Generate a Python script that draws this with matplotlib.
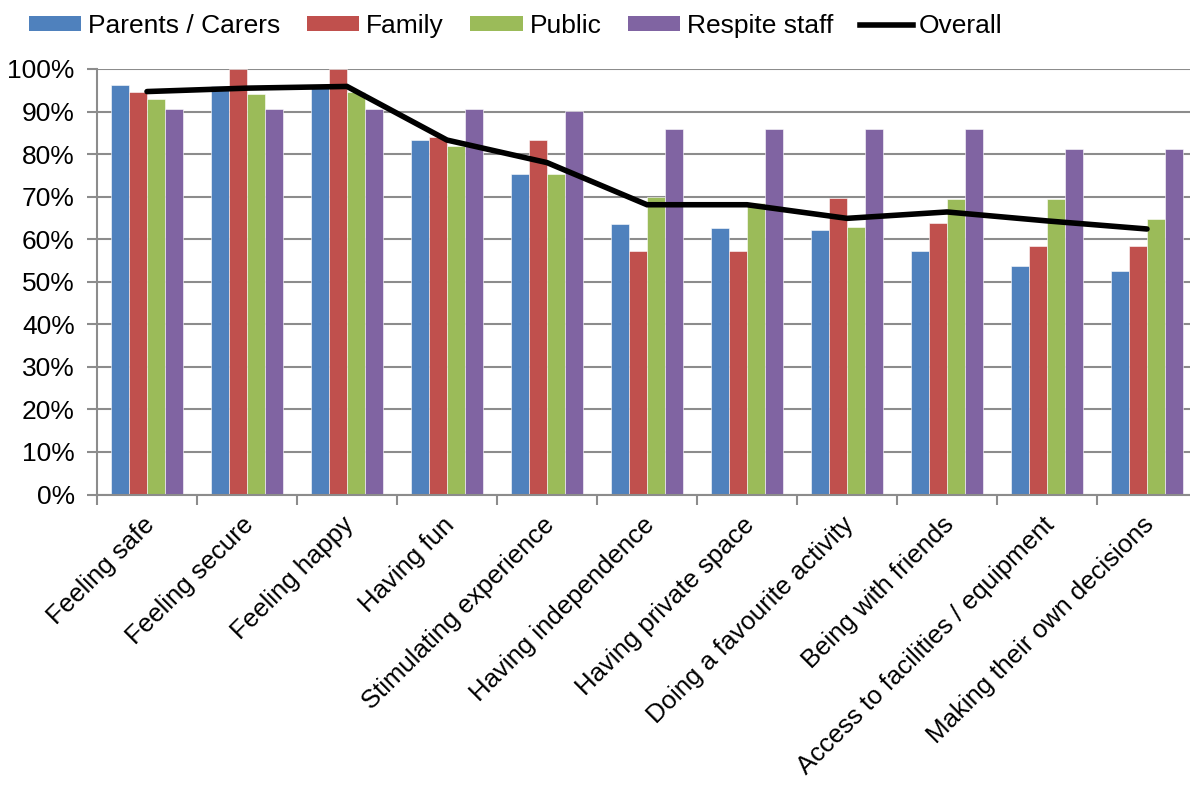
"""Respite outcomes chart"""

import numpy as np
import matplotlib.pyplot as plt
from matplotlib.lines import Line2D
from matplotlib.patches import Patch

plt.rcParams['font.family'] = ['Liberation Sans', 'DejaVu Sans']

categories = [
    "Feeling safe", "Feeling secure", "Feeling happy", "Having fun",
    "Stimulating experience", "Having independence", "Having private space",
    "Doing a favourite activity", "Being with friends",
    "Access to facilities / equipment", "Making their own decisions",
]
parents = [96.2, 95.9, 96.0, 83.4, 75.3, 63.5, 62.7, 62.1, 57.2, 53.6, 52.5]
family = [94.6, 100.0, 100.0, 84.0, 83.4, 57.2, 57.2, 69.6, 63.9, 58.4, 58.4]
public = [92.9, 94.1, 94.7, 81.8, 75.3, 70.0, 68.6, 62.9, 69.4, 69.4, 64.7]
respite = [90.6, 90.6, 90.6, 90.6, 90.2, 85.8, 85.8, 85.8, 85.8, 81.2, 81.2]
overall = [94.7, 95.5, 95.9, 83.3, 78.0, 68.1, 68.1, 64.9, 66.4, 64.3, 62.4]

series_names = ["Parents / Carers", "Family", "Public", "Respite staff"]
colors = ["#4f81bd", "#c0504d", "#9bbb59", "#8064a2"]


def main():
    fig = plt.figure(figsize=(11.9, 7.85), dpi=100)
    ax = fig.add_axes([97 / 1190, 1 - 494.5 / 785, 1100 / 1190, (494.5 - 69) / 785])

    x = np.arange(len(categories))
    w = 0.18
    for i, (vals, c) in enumerate(zip([parents, family, public, respite], colors)):
        ax.bar(x + (i - 1.5) * w, vals, width=w, color=c,
               edgecolor="#ffffff", linewidth=0.4, zorder=2)

    ax.plot(x, overall, color="black", linewidth=4, zorder=3,
            solid_capstyle="round", solid_joinstyle="miter")

    ax.set_xlim(-0.5, len(categories) - 0.5)
    ax.set_ylim(0, 100)
    ax.set_yticks(np.arange(0, 101, 10))
    ax.set_yticklabels([f"{v}%" for v in range(0, 101, 10)], fontsize=19)
    ax.yaxis.grid(True, color="#8c8c8c", linewidth=1.5, zorder=0)
    ax.set_axisbelow(True)

    # category ticks on the boundaries, labels at the centres
    ax.set_xticks(np.arange(-0.5, len(categories), 1.0))
    ax.set_xticklabels([])
    ax.set_xticks(x - 0.05, minor=True)
    ax.set_xticklabels(categories, minor=True, rotation=45, ha="right",
                       va="top", rotation_mode="anchor", fontsize=18.5)
    ax.tick_params(axis="x", which="minor", length=0, pad=13)
    ax.tick_params(axis="x", which="major", length=7, width=1.5, color="#8c8c8c")
    ax.tick_params(axis="y", length=7, width=1.5, color="#8c8c8c", pad=9)

    for s in ["top", "right"]:
        ax.spines[s].set_visible(False)
    for s in ["left", "bottom"]:
        ax.spines[s].set_color("#8c8c8c")
        ax.spines[s].set_linewidth(1.5)

    handles = [Patch(facecolor=c, label=n) for c, n in zip(colors, series_names)]
    handles.append(Line2D([0], [0], color="black", linewidth=4, label="Overall"))
    fig.legend(handles=handles, loc="upper left", bbox_to_anchor=(0.004, 1.012),
               ncol=5, frameon=False, fontsize=19, handlelength=2.0,
               handleheight=0.5, handletextpad=0.25, columnspacing=1.0)

    fig.savefig("out.png", dpi=100)


if __name__ == "__main__":
    main()
